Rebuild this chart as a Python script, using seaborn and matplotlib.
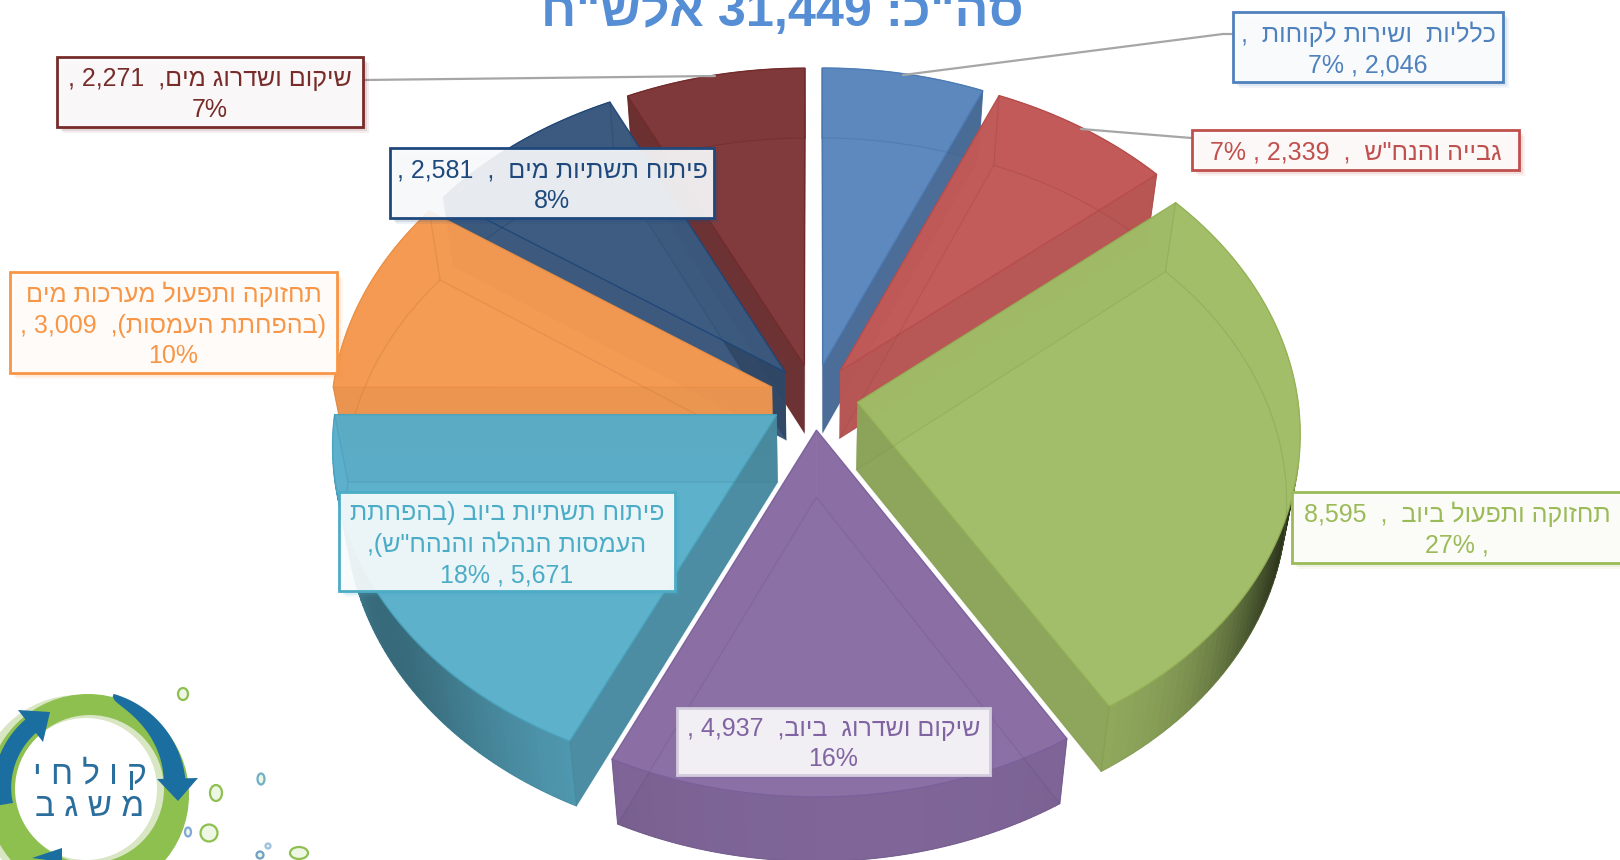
import re
import numpy as np
import matplotlib
matplotlib.use('Agg')
import matplotlib.pyplot as plt
from matplotlib.patches import Rectangle, Circle, Ellipse
import seaborn as sns

# Slices clockwise from 12 o'clock
categories = ['general', 'collection', 'sewer_ops', 'sewer_rehab', 'sewer_dev', 'water_ops', 'water_dev', 'water_rehab']
values = [2046, 2339, 8595, 4937, 5671, 3009, 2581, 2271]
slice_colors = ['#4F81BD', '#C0504D', '#9BBB59', '#8064A2', '#4BACC6', '#F79646', '#1F497D', '#772C2A']
top_colors = ['#5C88BE', '#C15A58', '#A2BE68', '#8A6EA5', '#5CB0CB', '#F49A52', '#3C5A80', '#80393A']
# wall shading: leading edge, trailing edge of each slice
wall_dark = [(0.77, 0.77), (0.95, 0.95), (0.86, 0.86), (0.92, 0.92), (0.78, 0.78), (0.96, 0.96), (0.98, 0.77), (0.83, 0.83)]

label_lines = [
    ['כלליות  ושירות לקוחות  ,', '2,046 , 7%'],
    ['גבייה והנח"ש  ,  2,339 , 7%'],
    ['תחזוקה ותפעול ביוב  ,  8,595', ', 27%'],
    ['שיקום ושדרוג  ביוב,  4,937 ,', '16%'],
    ['פיתוח תשתיות ביוב (בהפחתת', 'העמסות הנהלה והנהח"ש),', '5,671 , 18%'],
    ['תחזוקה ותפעול מערכות מים', '(בהפחתת העמסות),  3,009 ,', '10%'],
    ['פיתוח תשתיות מים  ,  2,581 ,', '8%'],
    ['שיקום ושדרוג מים,  2,271 ,', '7%'],
]
title_text = 'סה"כ: 31,449 אלש"ח'

# label boxes in pixels: left, top, right, bottom
label_boxes = [
    (1233, 12, 1503, 82), (1192, 130, 1519, 170), (1292, 492, 1622, 563), (677, 708, 990, 775),
    (339, 492, 675, 591), (10, 272, 337, 373), (390, 148, 714, 218), (57, 57, 363, 127),
]
leaders = [
    [(1233, 34), (1223, 34), (903, 75)],
    [(1192, 138), (1179, 137), (1081, 129)],
    [(363, 80), (715, 76)],
]

# back to front
draw_order = [7, 0, 6, 1, 5, 2, 4, 3]
explode = 0.1
cx, cy, fx, fy, persp = 814, 397, 440, 328.5, 0.0878


def visual(s):
    # matplotlib has no bidi, so flip the line by hand and keep the numbers as they are
    parts = re.findall(r'\d[\d,]*%?|.', s)
    flip = {'(': ')', ')': '('}
    return ''.join(flip.get(p, p) for p in reversed(parts))


def project(ang, r, mid, bottom=False):
    x = r * np.sin(ang) + explode * np.sin(mid)
    y = -r * np.cos(ang) - explode * np.cos(mid)
    w = 1 - persp * y
    u = cx + fx * x / w
    v = cy + fy * y / w
    if bottom:
        u = cx + (u - cx) * 0.972
        v = v + 67.5 - (v - cy) * 0.0075
    return u, v


def rim_shade(a):
    # dark bands where the front rim turns away, none where the rim sits under the top face
    deg = np.degrees(a)
    if deg < 100 or deg > 262:
        return 1.0
    right = 0.66 * np.exp(-(deg - 105) ** 2 / (2 * 18 ** 2)) * min((deg - 100) / 5, 1)
    left = 0.32 * np.exp(-(deg - 238) ** 2 / (2 * 18 ** 2))
    return 0.92 - right - left


sns.set_theme(style='white')
plt.rcParams['font.family'] = ['Liberation Sans', 'DejaVu Sans']
palette = sns.color_palette(slice_colors)
faces = sns.color_palette(top_colors)

fig = plt.figure(figsize=(16.2, 8.6), dpi=100)
ax = fig.add_axes([0, 0, 1, 1])
ax.set_xlim(0, 1620)
ax.set_ylim(860, 0)
ax.axis('off')

edges = np.cumsum([0] + values) / sum(values) * 2 * np.pi

for i in draw_order:
    col = np.array(palette[i])
    face = np.array(faces[i])
    a0, a1 = edges[i], edges[i + 1]
    mid = (a0 + a1) / 2
    arc = np.linspace(a0, a1, 80)
    top_x, top_y = project(arc, 1, mid)
    bot_x, bot_y = project(arc, 1, mid, bottom=True)
    ax0, ay0 = project(0, 0, mid)
    bx0, by0 = project(0, 0, mid, bottom=True)
    z = 2 + draw_order.index(i)

    # floor of the slice
    ax.fill(np.r_[bx0, bot_x], np.r_[by0, bot_y], color=face, alpha=0.88, lw=0, zorder=z)

    # rim
    for k in range(len(arc) - 1):
        c = face * rim_shade((arc[k] + arc[k + 1]) / 2)
        ax.fill([top_x[k], top_x[k + 1], bot_x[k + 1], bot_x[k]],
                [top_y[k], top_y[k + 1], bot_y[k + 1], bot_y[k]],
                color=c, ec=c, lw=0.6, zorder=z)

    # radial walls
    for k, dark in zip([0, -1], wall_dark[i]):
        ax.fill([ax0, top_x[k], bot_x[k], bx0], [ay0, top_y[k], bot_y[k], by0],
                color=face * dark, alpha=0.9, lw=0, zorder=z)

    # top face
    ax.fill(np.r_[ax0, top_x], np.r_[ay0, top_y], fc=(*face, 0.88), ec=(*(col * 0.95), 0.9), lw=1.0, zorder=z)

    # floor outline and corner lines show through
    line = (*(col * 0.75), 0.25)
    ax.plot(np.r_[bx0, bot_x, bx0], np.r_[by0, bot_y, by0], color=line, lw=0.9, zorder=z)
    for k in [0, -1]:
        ax.plot([top_x[k], bot_x[k]], [top_y[k], bot_y[k]], color=line, lw=0.9, zorder=z)

# leader lines
for pts in leaders:
    xs, ys = zip(*pts)
    ax.plot(xs, ys, color='#A6A6A6', lw=1.6, zorder=20)

# labels
for i in range(len(values)):
    l, t, r, b = label_boxes[i]
    for off, al in [(6, 0.08), (4, 0.12), (2, 0.16)]:
        ax.add_patch(Rectangle((l + off, t + off), r - l, b - t, fc=slice_colors[i], alpha=al, lw=0, zorder=21))
    edge = '#D3CCDD' if i == 3 else slice_colors[i]
    ax.add_patch(Rectangle((l, t), r - l, b - t, fc=(1, 1, 1, 0.89), ec=edge, lw=2, zorder=22))
    ax.text((l + r) / 2, (t + b) / 2 + 2.5, '\n'.join(visual(s) for s in label_lines[i]),
            color=slice_colors[i], fontsize=18, ha='center', va='center', ma='center',
            linespacing=1.34, zorder=23)

ax.text(782, 26, visual(title_text), color='#558ED5', fontsize=36.3, fontweight='bold', ha='center', va='baseline', zorder=25)

# logo, bottom left
logo_blue = '#1B6EA0'
ax.add_patch(Circle((78, 795), 100, fc='#D8E6C4', lw=0, zorder=3))
ax.add_patch(Circle((88, 795), 101, fc='#8DC04F', lw=0, zorder=3))
ax.add_patch(Circle((90, 789), 74, fc='#D8E6C4', lw=0, zorder=3))
ax.add_patch(Circle((86, 789), 71, fc='white', lw=0, zorder=3))


def logo_arrow(start, end, r_out, r_in0, r_in1, head):
    t = np.radians(np.linspace(start, end, 40))
    inner = r_in0 + (r_in1 - r_in0) * np.sqrt(np.linspace(0, 1, 40))
    xs = np.r_[86 + r_out * np.cos(t), (86 + inner * np.cos(t))[::-1]]
    ys = np.r_[790 - r_out * np.sin(t), (790 - inner * np.sin(t))[::-1]]
    ax.fill(xs, ys, color=logo_blue, lw=0, zorder=4)
    ax.fill(*zip(*head), color=logo_blue, lw=0, zorder=4)


logo_arrow(74, 5, 100, 97, 78, [(198, 778), (157, 779), (178, 801)])
logo_arrow(190, 128, 93, 74, 76, [(18, 710), (50, 712), (43, 742)])
logo_arrow(255, 245, 90, 78, 78, [(32, 858), (62, 848), (62, 862)])
logo_arrow(-52, -60, 100, 90, 90, [(160, 855), (160, 855), (160, 855)])

ax.text(90, 774, ' '.join(visual('קולחי')), color='#2A6E9E', fontsize=24, ha='center', va='center', zorder=5)
ax.text(90, 808, ' '.join(visual('משגב')), color='#2A6E9E', fontsize=24, ha='center', va='center', zorder=5)

for x, y, w, h, c in [(183, 694, 10, 12, '#8DC04F'), (216, 793, 12, 16, '#8DC04F'), (209, 833, 17, 17, '#8DC04F'),
                      (299, 853, 18, 12, '#8DC04F'), (261, 779, 7, 11, '#6FB0C8'), (188, 832, 6, 9, '#7FA8D8'),
                      (260, 855, 7, 7, '#6FA0C8'), (268, 846, 5, 5, '#9FC0E0')]:
    ax.add_patch(Ellipse((x, y), w, h, fc='#EEF6E4', ec=c, lw=1.6, zorder=3))

fig.savefig('out.png', dpi=100)
